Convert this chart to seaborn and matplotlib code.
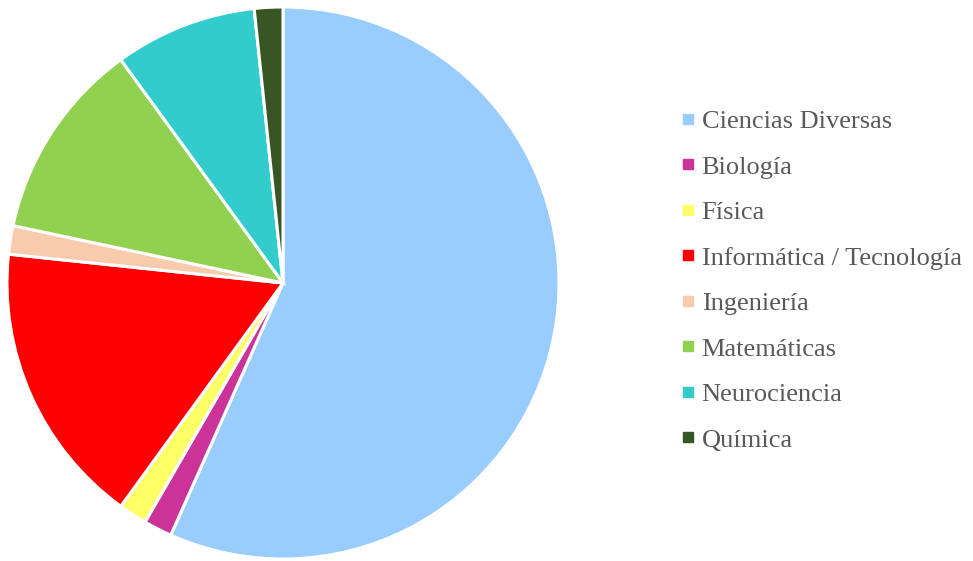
import matplotlib
matplotlib.use("Agg")
import matplotlib.pyplot as plt
from matplotlib.lines import Line2D
import seaborn as sns

categories = ["Ciencias Diversas", "Biología", "Física", "Informática / Tecnología",
              "Ingeniería", "Matemáticas", "Neurociencia", "Química"]
counts = [34, 1, 1, 10, 1, 7, 5, 1]
colors = ["#99CCFF", "#CC3399", "#FFFF66", "#FF0000",
          "#F8CBAD", "#92D050", "#33CCCC", "#375623"]

sns.set_theme(style="white")
plt.rcParams["font.family"] = ["Liberation Serif", "DejaVu Serif"]

fig = plt.figure(figsize=(9.73, 5.61), dpi=100)
cx, cy, r = 283, 283, 276
ax = fig.add_axes([(cx - r) / 973, (561 - cy - r) / 561, 2 * r / 973, 2 * r / 561])
ax.pie(counts, colors=colors, startangle=90, counterclock=False, radius=1,
       wedgeprops=dict(edgecolor="white", linewidth=2.2))
ax.set_xlim(-1, 1)
ax.set_ylim(-1, 1)
ax.set_aspect("equal")
ax.axis("off")

handles = [Line2D([0], [0], marker="s", linestyle="none", markersize=6.5,
                  markerfacecolor=c, markeredgecolor=c) for c in colors]
fig.legend(handles, categories, loc="upper left", bbox_to_anchor=(670 / 973, 1 - 99 / 561),
           frameon=False, fontsize=19, labelcolor="#595959", handlelength=0.55,
           handletextpad=0.25, labelspacing=0.835, borderaxespad=0)

fig.savefig("out.png", dpi=100)
